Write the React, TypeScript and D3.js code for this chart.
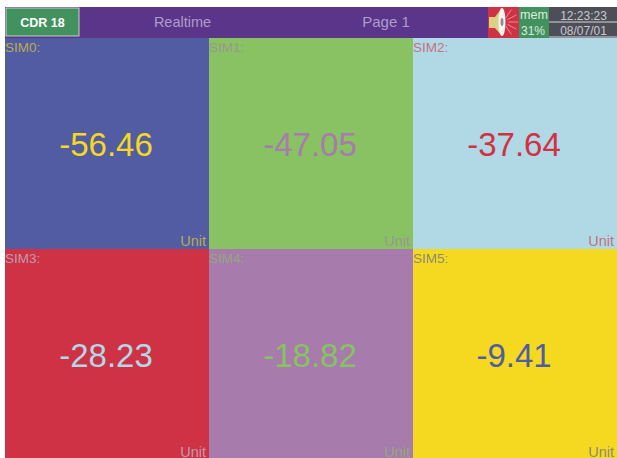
import { useEffect, useRef } from "react";
import * as d3 from "d3";

const channels = ["SIM0:", "SIM1:", "SIM2:", "SIM3:", "SIM4:", "SIM5:"];
const values = [-56.46, -47.05, -37.64, -28.23, -18.82, -9.41];
const cellColors = ["#515ca3", "#88c263", "#b0d8e5", "#d03245", "#a77bab", "#f4d920"];
const textColors = ["#f4d920", "#a77bab", "#d03245", "#b0d8e5", "#88c263", "#515ca3"];
const unitLabel = "Unit";
const columns = [0, 1, 2];
const rows = [0, 1];
const rays = [-56, -28, 0, 28, 56];

const W = 617;
const H = 458;

function App() {
  const svgRef = useRef<SVGSVGElement>(null);

  useEffect(() => {
    const svg = d3.select(svgRef.current);
    svg.selectAll("*").remove();

    const x = d3.scaleBand<number>().domain(columns).range([5, 617]);
    const y = d3.scaleBand<number>().domain(rows).range([38, 460]);
    const font = "Liberation Sans, Arial, sans-serif";

    // header strip
    svg.append("rect").attr("x", 5).attr("y", 7).attr("width", 483).attr("height", 31).attr("fill", "#5b358a");
    svg.append("rect").attr("x", 6).attr("y", 8).attr("width", 73).attr("height", 28)
      .attr("fill", "#42925f").attr("stroke", "#c9cfc9").attr("stroke-width", 1);
    svg.append("text").attr("x", 42.5).attr("y", 26.5).attr("text-anchor", "middle")
      .attr("font-family", font).attr("font-size", 12.5).attr("font-weight", "bold").attr("fill", "#fff").text("CDR 18");
    svg.append("text").attr("x", 182.5).attr("y", 27).attr("text-anchor", "middle")
      .attr("font-family", font).attr("font-size", 14.5).attr("fill", "#ad9cc8").text("Realtime");
    svg.append("text").attr("x", 386).attr("y", 27).attr("text-anchor", "middle")
      .attr("font-family", font).attr("font-size", 15).attr("fill", "#ad9cc8").text("Page 1");

    // speaker icon
    svg.append("rect").attr("x", 488).attr("y", 7).attr("width", 31).attr("height", 31).attr("fill", "#d03245");
    const rayLine = d3.lineRadial();
    const sound = svg.append("g").attr("transform", "translate(503,22)");
    sound.selectAll("path").data(rays).join("path")
      .attr("d", (a) => {
        const t = ((a + 90) * Math.PI) / 180;
        return rayLine([[t, 5], [t, 15]]) as string;
      })
      .attr("stroke", "#e98a90").attr("stroke-width", 1).attr("fill", "none");
    svg.append("path").attr("d", "M489 17 L495 17 L502 8 L502 36 L495 28 L489 28 Z").attr("fill", "#dccf86");
    svg.append("ellipse").attr("cx", 502).attr("cy", 22).attr("rx", 3.5).attr("ry", 14).attr("fill", "#f5f5f2");
    svg.append("ellipse").attr("cx", 502).attr("cy", 22).attr("rx", 1.5).attr("ry", 4).attr("fill", "#8a8f96");

    // memory box
    svg.append("rect").attr("x", 519).attr("y", 7).attr("width", 30).attr("height", 31).attr("fill", "#42925f");
    svg.append("text").attr("x", 534).attr("y", 19).attr("text-anchor", "middle")
      .attr("font-family", font).attr("font-size", 12.5).attr("fill", "#dfeadf").text("mem");
    svg.append("text").attr("x", 533).attr("y", 35).attr("text-anchor", "middle")
      .attr("font-family", font).attr("font-size", 12).attr("fill", "#dfeadf").text("31%");

    // clock
    svg.append("rect").attr("x", 549).attr("y", 7).attr("width", 68).attr("height", 31).attr("fill", "#4e4e58");
    svg.append("line").attr("x1", 549).attr("x2", 617).attr("y1", 22).attr("y2", 22).attr("stroke", "#d5d5da");
    svg.append("line").attr("x1", 549).attr("x2", 617).attr("y1", 37).attr("y2", 37).attr("stroke", "#d5d5da");
    svg.append("text").attr("x", 583.5).attr("y", 20).attr("text-anchor", "middle")
      .attr("font-family", font).attr("font-size", 12).attr("fill", "#c8c8cf").text("12:23:23");
    svg.append("text").attr("x", 583.5).attr("y", 35).attr("text-anchor", "middle")
      .attr("font-family", font).attr("font-size", 12).attr("fill", "#c8c8cf").text("08/07/01");

    // value cells
    const cells = svg.append("g").selectAll("g").data(values).join("g")
      .attr("transform", (_, i) => `translate(${x(i % 3)},${y(Math.floor(i / 3))})`);
    cells.append("rect").attr("width", x.bandwidth()).attr("height", y.bandwidth())
      .attr("fill", (_, i) => cellColors[i]);
    cells.append("text").attr("x", 0).attr("y", 14)
      .attr("font-family", font).attr("font-size", 13.5)
      .attr("fill", (_, i) => textColors[i]).attr("fill-opacity", 0.65)
      .text((_, i) => channels[i]);
    cells.append("text").attr("x", x.bandwidth() / 2 - 1).attr("y", 118).attr("text-anchor", "middle")
      .attr("font-family", font).attr("font-size", 33)
      .attr("fill", (_, i) => textColors[i])
      .text((d) => d3.format(".2f")(d).replace("\u2212", "-"));
    cells.append("text").attr("x", x.bandwidth() - 3).attr("y", 208).attr("text-anchor", "end")
      .attr("font-family", font).attr("font-size", 14.5)
      .attr("fill", (_, i) => textColors[i]).attr("fill-opacity", 0.65)
      .text(unitLabel);
  }, []);

  return (
    <div style={{ position: "absolute", left: 0, top: 0 }}>
      <svg ref={svgRef} width={W} height={H} style={{ display: "block", background: "#fff" }} />
    </div>
  );
}

export default App;
